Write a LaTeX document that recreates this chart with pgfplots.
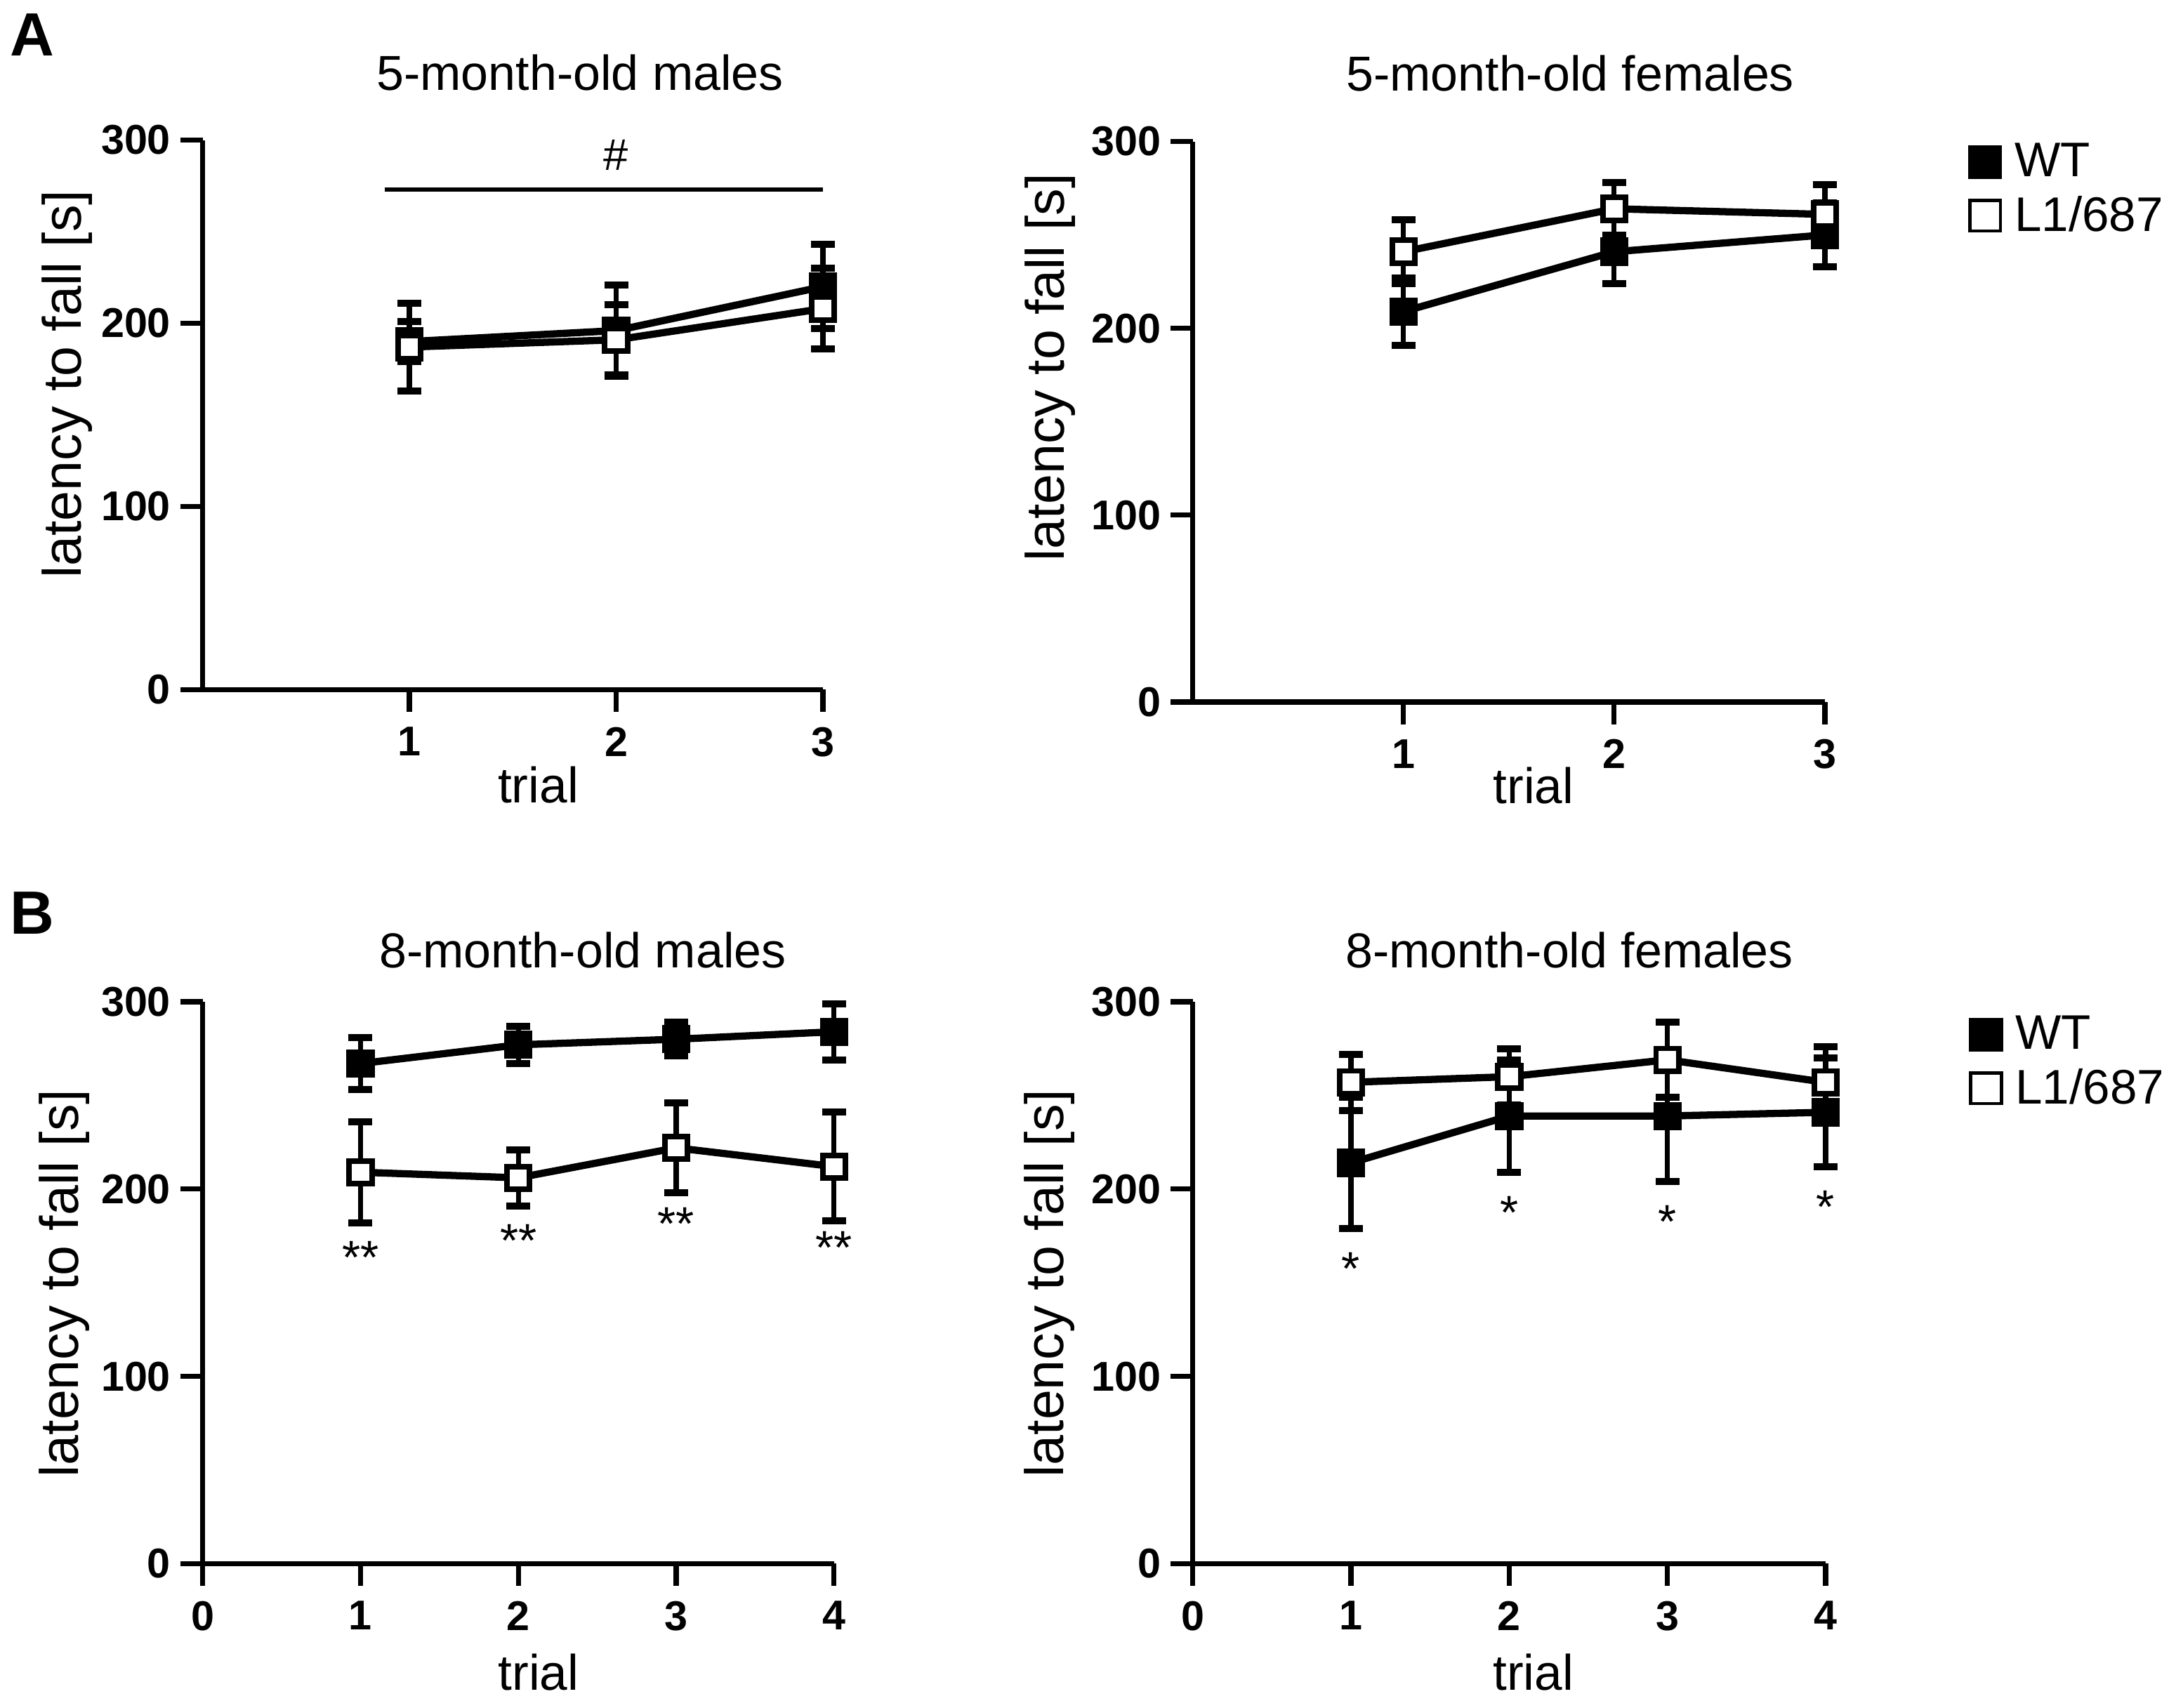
\documentclass[border=0pt]{standalone}
\usepackage{pgfplots}
\pgfplotsset{compat=1.18}
\usepackage{fontspec}
\setmainfont{Liberation Sans}

\pgfplotsset{
  panel/.style={
    scale only axis, anchor=south west, clip=false,
    ymin=0, ymax=300, ytick={0,100,200,300},
    axis x line*=bottom, axis y line*=left,
    axis line style={line width=1.8pt, black},
    every tick/.style={line width=1.8pt, black},
    major tick length=8pt, tick align=outside,
    /pgf/number format/assume math mode=true,
    ticklabel style={font=\bfseries\fontsize{15}{15}\selectfont},
    xticklabel style={yshift=-2pt},
    xlabel style={font=\fontsize{18}{18}\selectfont},
    ylabel style={font=\fontsize{19.5}{19.5}\selectfont},
    title style={font=\fontsize{17.7}{17.7}\selectfont, anchor=center},
    ylabel={latency to fall [s]}, xlabel={trial},
    error bars/y dir=both, error bars/y explicit,
    error bars/error bar style={line width=1.8pt, black},
    error bars/error mark options={line width=2.5pt, mark size=4.3pt, rotate=90, black},
  },
  wt/.style={black, line width=2.6pt, mark=square*, mark size=4.1pt,
     mark options={solid, fill=black, line width=2pt},
     legend image code/.code={\draw[line width=1.2pt, fill=black] (0pt,-5.5pt) rectangle (11pt,5.5pt);}},
  lo/.style={black, line width=2.6pt, mark=square*, mark size=4.1pt,
     mark options={solid, fill=white, line width=2pt},
     legend image code/.code={\draw[line width=1.2pt, fill=white] (0pt,-5.5pt) rectangle (11pt,5.5pt);}},
  leg/.style={legend style={draw=none, fill=none, inner sep=0pt, anchor=north west,
     font=\fontsize{17.5}{17.5}\selectfont, row sep=1.5pt, legend cell align=left,
     /tikz/every odd column/.append style={column sep=2.5pt},
     /tikz/every even column/.append style={column sep=6pt}}},
}

\pgfplotstableread{
x y e
1 190 11
2 196 25
3 220 23
}\tlwt
\pgfplotstableread{
x y e
1 187 24
2 191 19
3 208 22
}\tllo
\pgfplotstableread{
x y e
1 209 18
2 241 17
3 250 17
}\trwt
\pgfplotstableread{
x y e
1 241 17
2 264 14
3 261 16
}\trlo
\pgfplotstableread{
x y e
1 267 14
2 277 10
3 280 9
4 284 15
}\blwt
\pgfplotstableread{
x y e
1 209 27
2 206 15
3 222 24
4 212 29
}\bllo
\pgfplotstableread{
x y e
1 214 35
2 239 30
3 239 35
4 241 29
}\brwt
\pgfplotstableread{
x y e
1 257 15
2 260 15
3 269 20
4 257 19
}\brlo

\begin{document}
\begin{tikzpicture}
\useasboundingbox (0,0) rectangle (784pt,615.5pt);
\node[font=\bfseries\fontsize{22}{22}\selectfont] at (11.5pt,603pt) {A};
\node[font=\bfseries\fontsize{22}{22}\selectfont] at (11.5pt,286.5pt) {B};

% top left
\begin{axis}[panel, at={(73pt,367pt)}, width=223.5pt, height=198pt,
  xmin=0, xmax=3, xtick={1,2,3},
  title={5-month-old males},
  title style={at={(axis description cs:0.6085,1.092)}},
  xlabel style={at={(axis description cs:0.541,-0.174)}, anchor=center},
  ylabel style={at={(axis description cs:-0.218,0.556)}, anchor=center}]
\addplot[wt] table[x=x, y=y, y error=e] {\tlwt};
\addplot[lo] table[x=x, y=y, y error=e] {\tllo};
\draw[line width=1.4pt] (axis cs:0.88,273) -- (axis cs:3,273);
\node[font=\fontsize{16}{16}\selectfont] at (axis cs:2,292) {\#};
\end{axis}

% top right
\begin{axis}[panel, leg, at={(429.75pt,362.5pt)}, width=227.75pt, height=202pt,
  xmin=0, xmax=3, xtick={1,2,3},
  title={5-month-old females},
  title style={at={(axis description cs:0.597,1.092)}},
  xlabel style={at={(axis description cs:0.539,-0.149)}, anchor=center},
  ylabel style={at={(axis description cs:-0.226,0.597)}, anchor=center},
  legend style={at={(axis description cs:1.226,1.008)}}]
\addplot[wt] table[x=x, y=y, y error=e] {\trwt};
\addplot[lo] table[x=x, y=y, y error=e] {\trlo};
\legend{WT, L1/687}
\end{axis}

% bottom left
\begin{axis}[panel, at={(73pt,52pt)}, width=227.5pt, height=202.5pt,
  xmin=0, xmax=4, xtick={0,1,2,3,4},
  title={8-month-old males},
  title style={at={(axis description cs:0.602,1.062)}},
  xlabel style={at={(axis description cs:0.532,-0.193)}, anchor=center},
  ylabel style={at={(axis description cs:-0.219,0.499)}, anchor=center}]
\addplot[wt] table[x=x, y=y, y error=e] {\blwt};
\addplot[lo] table[x=x, y=y, y error=e] {\bllo};
\node[font=\fontsize{17}{17}\selectfont, anchor=base, yshift=-9.5pt] at (axis cs:1,169) {**};
\node[font=\fontsize{17}{17}\selectfont, anchor=base, yshift=-9.5pt] at (axis cs:2,178) {**};
\node[font=\fontsize{17}{17}\selectfont, anchor=base, yshift=-9.5pt] at (axis cs:3,187) {**};
\node[font=\fontsize{17}{17}\selectfont, anchor=base, yshift=-9.5pt] at (axis cs:4,174) {**};
\end{axis}

% bottom right
\begin{axis}[panel, leg, at={(429.75pt,52pt)}, width=228pt, height=202.5pt,
  xmin=0, xmax=4, xtick={0,1,2,3,4},
  title={8-month-old females},
  title style={at={(axis description cs:0.595,1.062)}},
  xlabel style={at={(axis description cs:0.538,-0.193)}, anchor=center},
  ylabel style={at={(axis description cs:-0.226,0.499)}, anchor=center},
  legend style={at={(axis description cs:1.226,0.986)}}]
\addplot[wt] table[x=x, y=y, y error=e] {\brwt};
\addplot[lo] table[x=x, y=y, y error=e] {\brlo};
\node[font=\fontsize{17}{17}\selectfont, anchor=base, yshift=-9.5pt] at (axis cs:1,163) {*};
\node[font=\fontsize{17}{17}\selectfont, anchor=base, yshift=-9.5pt] at (axis cs:2,193) {*};
\node[font=\fontsize{17}{17}\selectfont, anchor=base, yshift=-9.5pt] at (axis cs:3,188) {*};
\node[font=\fontsize{17}{17}\selectfont, anchor=base, yshift=-9.5pt] at (axis cs:4,196) {*};
\legend{WT, L1/687}
\end{axis}
\end{tikzpicture}
\end{document}
